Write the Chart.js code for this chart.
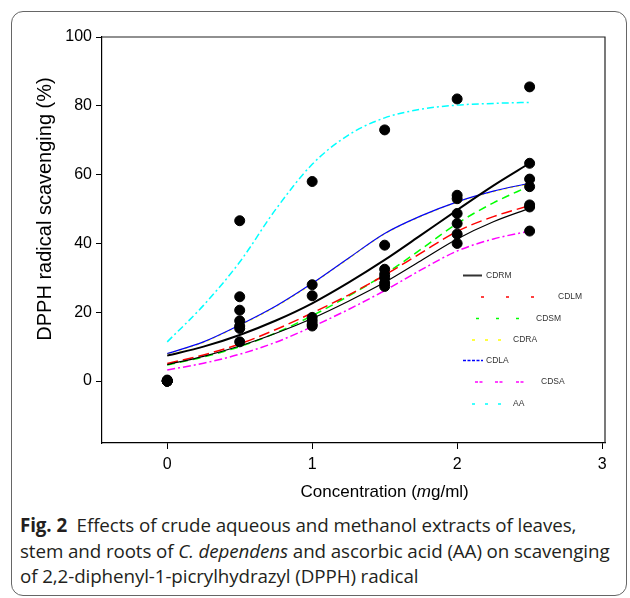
<!DOCTYPE html>
<html>
<head>
<meta charset="utf-8">
<script src="https://cdn.jsdelivr.net/npm/chart.js@4.4.1/dist/chart.umd.min.js"></script>
<style>
  body { margin: 0; width: 630px; height: 598px; position: relative; background: #fff; overflow: hidden; }
  #frame { position: absolute; left: 11px; top: 11px; width: 616px; height: 585px; box-sizing: border-box;
           border: 1px solid #666; border-radius: 12px; }
  #chart { position: absolute; left: 0; top: 0; }
  #caption { position: absolute; left: 20px; top: 513px; font-family: 'Open Sans', sans-serif; font-size: 18.8px;
             line-height: 25.5px; color: #231f20; white-space: nowrap; letter-spacing: -0.1px; }
</style>
</head>
<body>
<div id="frame"></div>
<canvas id="chart" width="630" height="510"></canvas>
<div id="caption"><b>Fig. 2</b>&nbsp; Effects of crude aqueous and methanol extracts of leaves,<br>stem and roots of <i>C. dependens</i> and ascorbic acid (AA) on scavenging<br>of 2,2-diphenyl-1-picrylhydrazyl (DPPH) radical</div>
<script>
// ===== [Data] =====
const xTicks = [0, 1, 2, 3];
const yTicks = [0, 20, 40, 60, 80, 100];

// measured points (% scavenging) at each concentration
const concentrations = [0, 0.5, 1, 1.5, 2, 2.5];
const observed = [
    [0, 0, 0, 0, 0, 0, 0.3],
    [46.6, 24.5, 20.6, 17.5, 16, 15.3, 11.4],
    [58, 28, 24.8, 18.5, 17.5, 16.5, 16],
    [73, 39.5, 32.5, 31, 30, 28.5, 27.5],
    [82, 54, 53, 48.7, 45.8, 42.7, 40],
    [85.5, 63.3, 58.7, 56.5, 51.2, 50.6, 43.6]
];

// fitted curves
const fitX = [0, 0.25, 0.5, 0.75, 1, 1.25, 1.5, 1.75, 2, 2.25, 2.5];
const cdrm = [7.4, 10, 13.4, 17.6, 22.6, 28.6, 35.2, 42.4, 49.7, 56.8, 63.3];
const cdrmLow = [4.8, 7.2, 10.2, 13.9, 18.2, 23.2, 28.7, 35, 41.3, 46.3, 50.2];
const cdlm = [5.1, 7.6, 10.8, 15, 19.8, 25, 30.8, 37.2, 43.5, 47.8, 51];
const cdsm = [4.7, 7, 10, 14, 19, 24.7, 31, 38.3, 45.8, 51.8, 56.7];
const cdra = [7.9, 11.3, 16.2, 21.7, 28.3, 35.6, 42.8, 47.9, 52, 55.1, 57.4];
const cdla = [8, 11.4, 16.3, 21.8, 28.4, 35.7, 42.9, 48, 52.1, 55.2, 57.5];
const cdsa = [3.2, 5.2, 7.8, 11.3, 15.8, 20.8, 26.3, 32.3, 37.8, 41.3, 43.6];
const aa = [11.4, 22, 34.6, 50, 63, 71.5, 76.5, 79, 80.2, 80.7, 81];

const AXIS_FONT = "'Liberation Sans', Arial, sans-serif";

// ===== [Helpers] =====
function fitLine(label, values, color, width, dash, order) {
    return {
        type: 'line',
        label: label,
        data: fitX.map((x, i) => ({ x: x, y: values[i] })),
        borderColor: color,
        borderWidth: width,
        borderDash: dash,
        pointRadius: 0,
        cubicInterpolationMode: 'monotone',
        fill: false,
        order: order
    };
}

const dots = [];
concentrations.forEach((c, i) => observed[i].forEach(v => dots.push({ x: c, y: v })));

// ===== [Plugins: box, axis titles, legend] =====
const boxPlugin = {
    id: 'box',
    afterDatasetsDraw(chart) {
        const { ctx, chartArea: a } = chart;
        ctx.save();
        ctx.strokeStyle = '#222';
        ctx.lineWidth = 1.2;
        ctx.beginPath();
        ctx.moveTo(a.left, a.top);
        ctx.lineTo(a.right, a.top);
        ctx.lineTo(a.right, a.bottom);
        ctx.stroke();
        ctx.restore();
    }
};

const titlesPlugin = {
    id: 'titles',
    afterDraw(chart) {
        const ctx = chart.ctx;
        const xs = chart.scales.x;
        ctx.save();
        ctx.fillStyle = '#000';
        ctx.textBaseline = 'middle';
        // x title with italic "m"
        const parts = [['Concentration (', ''], ['m', 'italic '], ['g/ml)', '']];
        let total = 0;
        parts.forEach(p => { ctx.font = p[1] + '17px ' + AXIS_FONT; total += ctx.measureText(p[0]).width; });
        let cx = (xs.getPixelForValue(xTicks[0]) + xs.getPixelForValue(xTicks[xTicks.length - 1])) / 2 - total / 2;
        ctx.textAlign = 'left';
        parts.forEach(p => {
            ctx.font = p[1] + '17px ' + AXIS_FONT;
            ctx.fillText(p[0], cx, 492);
            cx += ctx.measureText(p[0]).width;
        });
        // y title
        ctx.translate(45, 209);
        ctx.rotate(-Math.PI / 2);
        ctx.textAlign = 'center';
        ctx.font = '20px ' + AXIS_FONT;
        ctx.fillText('DPPH radical scavenging (%)', 0, 0);
        ctx.restore();
    }
};

const legendMarks = [
    { label: 'CDRM', y: 275.5, textX: 486, segs: [[463, 482]], width: 2, color: '#333' },
    { label: 'CDLM', y: 297, textX: 558, segs: [[481, 484], [506, 509], [531, 534]] },
    { label: 'CDSM', y: 318.5, textX: 536, segs: [[476, 479], [496, 499], [516, 519]] },
    { label: 'CDRA', y: 340, textX: 513, segs: [[472, 475], [485, 488], [498, 501]] },
    { label: 'CDLA', y: 360.5, textX: 486, segs: [[463, 483]], dash: [3, 1.5] },
    { label: 'CDSA', y: 382, textX: 541, segs: [[475, 478], [479.5, 482.5], [495, 498], [499.5, 502.5], [516, 519], [520.5, 523.5]] },
    { label: 'AA', y: 404, textX: 513, segs: [[472, 475], [485, 488], [498, 501]] }
];

const legendPlugin = {
    id: 'sigmaLegend',
    afterDraw(chart) {
        const ctx = chart.ctx;
        ctx.save();
        legendMarks.forEach(m => {
            const ds = chart.data.datasets.find(d => d.label === m.label);
            ctx.strokeStyle = m.color || ds.borderColor;
            ctx.lineWidth = m.width || 1.5;
            ctx.setLineDash(m.dash || []);
            m.segs.forEach(s => {
                ctx.beginPath();
                ctx.moveTo(s[0], m.y);
                ctx.lineTo(s[1], m.y);
                ctx.stroke();
            });
            ctx.setLineDash([]);
            ctx.fillStyle = '#333';
            ctx.font = '8.5px ' + AXIS_FONT;
            ctx.textAlign = 'left';
            ctx.textBaseline = 'middle';
            ctx.fillText(m.label, m.textX, m.y);
        });
        ctx.restore();
    }
};

// ===== [Chart] =====
const config = {
    type: 'scatter',
    data: {
        datasets: [
            {
                type: 'scatter',
                label: 'data',
                data: dots,
                backgroundColor: '#000',
                borderColor: '#000',
                pointRadius: 5,
                order: 0
            },
            fitLine('CDRM', cdrm, '#000', 2, [], 1),
            fitLine('', cdrmLow, '#000', 1.2, [], 2),
            fitLine('CDLM', cdlm, '#ff0000', 1.5, [11, 5], 3),
            fitLine('CDSM', cdsm, '#00ff00', 1.5, [8, 5], 4),
            fitLine('CDLA', cdla, '#0000ff', 1.2, [], 5),
            fitLine('CDRA', cdra, '#ffff00', 1.5, [3, 3], 6),
            fitLine('CDSA', cdsa, '#ff00ff', 1.5, [8, 3, 2, 3], 7),
            fitLine('AA', aa, '#00ffff', 1.5, [7, 3, 2, 3], 8)
        ]
    },
    options: {
        responsive: false,
        animation: false,
        devicePixelRatio: 1,
        layout: { padding: { left: 0, top: 37, right: 25, bottom: 0 } },
        plugins: { legend: { display: false }, tooltip: { enabled: false } },
        scales: {
            x: {
                type: 'linear',
                min: -0.45,
                max: 3.02,
                afterBuildTicks: s => { s.ticks = xTicks.map(v => ({ value: v })); },
                afterFit: s => { s.height = 67; },
                border: { display: true, color: '#000', width: 1.2 },
                grid: { drawOnChartArea: false, drawTicks: true, tickLength: 6, color: '#000' },
                ticks: { color: '#000', padding: 6, font: { family: AXIS_FONT, size: 16 } }
            },
            y: {
                type: 'linear',
                min: -18,
                max: 100,
                afterBuildTicks: s => { s.ticks = yTicks.map(v => ({ value: v })); },
                afterFit: s => { s.width = 102; },
                border: { display: true, color: '#000', width: 1.2 },
                grid: { drawOnChartArea: false, drawTicks: true, tickLength: 6, color: '#000' },
                ticks: { color: '#000', padding: 4, font: { family: AXIS_FONT, size: 16 } }
            }
        }
    },
    plugins: [boxPlugin, titlesPlugin, legendPlugin]
};

const myChart = new Chart(document.getElementById('chart'), config);
</script>
</body>
</html>
